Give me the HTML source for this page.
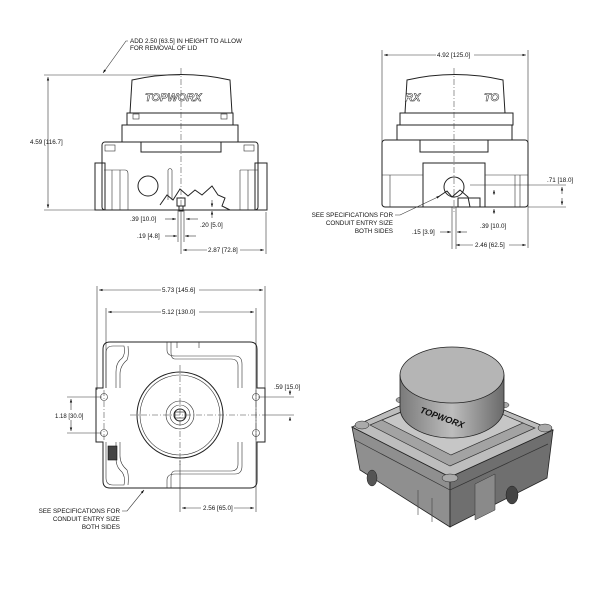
<!DOCTYPE html>
<html><head><meta charset="utf-8"><style>
html,body{margin:0;padding:0;background:#fff}
svg{display:block}
text{font-family:"Liberation Sans",sans-serif;font-size:6.3px;fill:#111}
.l{stroke:#222;stroke-width:1;fill:none}
.t{stroke:#333;stroke-width:0.6;fill:none}
.c{stroke:#444;stroke-width:0.55;fill:none;stroke-dasharray:6 2 1 2}
</style></head><body>
<svg width="600" height="600" viewBox="0 0 600 600" xmlns="http://www.w3.org/2000/svg">
<defs>
<marker id="a" viewBox="0 0 6 6" refX="6" refY="3" markerWidth="6" markerHeight="6" orient="auto-start-reverse"><path d="M0,1 L6,3 L0,5z" fill="#111"/></marker>
<linearGradient id="dome" x1="0" y1="0" x2="0" y2="1"><stop offset="0" stop-color="#cfcfcf"/><stop offset="1" stop-color="#f0f0f0"/></linearGradient>
<linearGradient id="cyl" x1="0" y1="0" x2="1" y2="0"><stop offset="0" stop-color="#7a7a7a"/><stop offset=".5" stop-color="#bdbdbd"/><stop offset="1" stop-color="#6a6a6a"/></linearGradient>
</defs>

<!-- FRONT VIEW -->
<text x="130" y="43">ADD 2.50 [63.5] IN HEIGHT TO ALLOW</text>
<text x="130" y="50">FOR REMOVAL OF LID</text>
<path class="t" d="M128,41 L126,41 L103,73" marker-end="url(#a)"/>
<line class="t" x1="44" y1="75" x2="180" y2="75"/>
<line class="t" x1="44" y1="210" x2="100" y2="210"/>
<line class="t" x1="48" y1="77" x2="48" y2="208" marker-start="url(#a)" marker-end="url(#a)"/>
<text x="30" y="144">4.59 [116.7]</text>
<path class="l" d="M130,113 L132,80 Q181,69 230,80 L232,113" fill="url(#dome)"/>
<text x="145" y="101" style="font-size:11px;font-style:italic;font-weight:bold;fill:#fff;stroke:#222;stroke-width:.5">TOPWORX</text>
<rect class="l" x="127" y="113" width="106" height="12"/>
<rect class="t" x="133" y="114" width="6" height="5"/><rect class="t" x="221" y="114" width="6" height="5"/>
<rect class="l" x="122" y="125" width="116" height="17"/>
<rect class="l" x="102" y="142" width="156" height="68" rx="3"/>
<rect class="l" x="141" y="142" width="80" height="10"/>
<rect class="l" x="95" y="163" width="10" height="47"/><rect class="l" x="255" y="163" width="12" height="47"/>
<path class="t" d="M104,170 L125,170 Q128,170 128,174 L128,210 M112,170 L112,210 M120,170 L120,210 M240,170 L258,170 M240,170 L240,210 M248,170 L248,210"/>
<rect class="t" x="105" y="145" width="10" height="6"/><rect class="t" x="244" y="145" width="10" height="6"/>
<circle class="l" cx="148" cy="186" r="10"/>
<path class="t" d="M168,170 L168,200 M172,170 L172,200 M168,170 Q170,167 172,170"/>
<path class="l" d="M160,205 L167,195 L173,200 L180,189 L188,196 L195,190 L202,195 L212,186 L218,195 L225,198 L222,206 L230,210" fill="#fff"/>
<rect class="l" x="177" y="198" width="8" height="8"/><rect class="l" x="179" y="206" width="4" height="5"/>
<line class="c" x1="181" y1="68" x2="181" y2="212"/>
<line class="t" x1="178" y1="210" x2="178" y2="242"/><line class="t" x1="184" y1="210" x2="184" y2="242"/>
<line class="t" x1="165" y1="219" x2="176" y2="219" marker-end="url(#a)"/><line class="t" x1="198" y1="219" x2="186" y2="219" marker-end="url(#a)"/>
<text x="130" y="221">.39 [10.0]</text>
<text x="200" y="227">.20 [5.0]</text>
<line class="t" x1="212" y1="200" x2="212" y2="207" marker-end="url(#a)"/><line class="t" x1="212" y1="218" x2="212" y2="211" marker-end="url(#a)"/>
<text x="137" y="238">.19 [4.8]</text>
<line class="t" x1="165" y1="236" x2="177" y2="236" marker-end="url(#a)"/><line class="t" x1="196" y1="236" x2="185" y2="236" marker-end="url(#a)"/>
<line class="t" x1="181" y1="212" x2="181" y2="254"/><line class="t" x1="266" y1="212" x2="266" y2="254"/>
<line class="t" x1="183" y1="250" x2="264" y2="250" marker-start="url(#a)" marker-end="url(#a)"/>
<rect x="207" y="246" width="33" height="8" fill="#fff"/><text x="208" y="252">2.87 [72.8]</text>

<!-- SIDE VIEW -->
<line class="t" x1="382" y1="50" x2="382" y2="205"/><line class="t" x1="528" y1="50" x2="528" y2="248"/>
<line class="t" x1="384" y1="55" x2="526" y2="55" marker-start="url(#a)" marker-end="url(#a)"/>
<rect x="436" y="51" width="38" height="8" fill="#fff"/><text x="437" y="57">4.92 [125.0]</text>
<path class="l" d="M405,113 L407,80 Q455,69 503,80 L505,113" fill="url(#dome)"/>
<text x="405" y="101" style="font-size:11px;font-style:italic;font-weight:bold;fill:#fff;stroke:#222;stroke-width:.5">RX</text>
<text x="484" y="101" style="font-size:11px;font-style:italic;font-weight:bold;fill:#fff;stroke:#222;stroke-width:.5">TO</text>
<rect class="l" x="400" y="113" width="113" height="12"/>
<rect class="l" x="397" y="125" width="115" height="15"/>
<rect class="l" x="382" y="140" width="146" height="67" rx="3"/>
<rect class="l" x="420" y="140" width="68" height="12"/>
<rect class="l" x="423" y="163" width="62" height="44"/>
<path class="t" d="M382,175 L423,175 M485,175 L528,175 M390,175 L390,207 M515,175 L515,207 M520,175 L520,207"/>
<circle class="l" cx="454" cy="187" r="10"/>
<path class="l" d="M438,197 L447,191 L452,197 L460,190 L468,197 L470,207" fill="#fff"/>
<rect class="l" x="458" y="198" width="22" height="9"/>
<line class="c" x1="454" y1="68" x2="454" y2="212"/>
<line class="t" x1="470" y1="185" x2="566" y2="185"/><line class="t" x1="528" y1="207" x2="566" y2="207"/>
<line class="t" x1="562" y1="194" x2="562" y2="187" marker-end="url(#a)"/><line class="t" x1="562" y1="198" x2="562" y2="205" marker-end="url(#a)"/>
<text x="547" y="182">.71 [18.0]</text>
<line class="t" x1="494" y1="195" x2="494" y2="190" marker-end="url(#a)"/><line class="t" x1="494" y1="214" x2="494" y2="209" marker-end="url(#a)"/>
<text x="480" y="228">.39 [10.0]</text>
<text x="393" y="217" text-anchor="end">SEE SPECIFICATIONS FOR</text>
<text x="393" y="225" text-anchor="end">CONDUIT ENTRY SIZE</text>
<text x="393" y="233" text-anchor="end">BOTH SIDES</text>
<path class="t" d="M395,215 L400,215 L440,196" marker-end="url(#a)"/>
<line class="t" x1="452" y1="207" x2="452" y2="249"/><line class="t" x1="456" y1="207" x2="456" y2="249"/>
<text x="412" y="234">.15 [3.9]</text>
<line class="t" x1="440" y1="232" x2="451" y2="232" marker-end="url(#a)"/><line class="t" x1="467" y1="232" x2="457" y2="232" marker-end="url(#a)"/>
<line class="t" x1="456" y1="245" x2="526" y2="245" marker-start="url(#a)" marker-end="url(#a)"/>
<rect x="473" y="241" width="36" height="8" fill="#fff"/><text x="475" y="247">2.46 [62.5]</text>

<!-- TOP VIEW -->
<line class="t" x1="97" y1="286" x2="97" y2="390"/><line class="t" x1="265" y1="286" x2="265" y2="390"/>
<line class="t" x1="99" y1="290" x2="263" y2="290" marker-start="url(#a)" marker-end="url(#a)"/>
<rect x="161" y="286" width="38" height="8" fill="#fff"/><text x="162" y="292">5.73 [145.6]</text>
<line class="t" x1="106" y1="308" x2="106" y2="388"/><line class="t" x1="256" y1="308" x2="256" y2="512"/>
<line class="t" x1="108" y1="312" x2="254" y2="312" marker-start="url(#a)" marker-end="url(#a)"/>
<rect x="161" y="308" width="38" height="8" fill="#fff"/><text x="162" y="314">5.12 [130.0]</text>
<path class="l" d="M110,342 L250,342 Q257,342 257,349 L257,388 L265,388 L265,442 L257,442 L257,481 Q257,488 250,488 L110,488 Q103,488 103,481 L103,442 L96,442 L96,388 L103,388 L103,349 Q103,342 110,342 Z"/>
<path class="t" d="M106,388 L106,353 Q106,346 113,346 L124,346 Q126,356 120,360 Q116,364 116,372 L116,388 M120,388 L120,374 Q120,366 127,360 Q129,356 128,346 M167,342 L167,350 Q167,356 175,356 L235,356 Q242,356 242,364 L242,388 M238,388 L238,366 Q238,359 231,359 L175,359 Q171,359 171,352 L171,342 M177,342 L177,348 M199,342 L199,348"/>
<path class="t" d="M106,442 L106,478 Q106,485 113,485 L124,485 Q126,475 120,470 Q116,466 116,458 L116,442 M120,442 L120,456 Q120,464 127,470 Q129,475 128,485 M167,488 L167,480 Q167,474 175,474 L235,474 Q242,474 242,466 L242,442 M238,442 L238,464 Q238,471 231,471 L175,471 Q171,471 171,478 L171,488"/>
<rect x="108" y="446" width="9" height="14" fill="#444" stroke="#111" stroke-width=".6"/>
<circle class="l" cx="180" cy="415" r="43"/><circle class="t" cx="180" cy="415" r="40"/>
<circle class="t" cx="180" cy="415" r="14"/><circle class="t" cx="180" cy="415" r="10"/><circle class="l" cx="180" cy="415" r="6"/><rect x="175" y="412" width="10" height="6" fill="none" stroke="#111" stroke-width=".6"/>
<circle class="t" cx="104" cy="397" r="3.5"/><circle class="t" cx="104" cy="433" r="3.5"/><circle class="t" cx="256" cy="397" r="3.5"/><circle class="t" cx="256" cy="433" r="3.5"/>
<line class="c" x1="130" y1="415" x2="262" y2="415"/><line class="c" x1="180" y1="365" x2="180" y2="465"/>
<line class="c" x1="104" y1="390" x2="104" y2="440"/><line class="c" x1="256" y1="390" x2="256" y2="440"/>
<line class="t" x1="67" y1="397" x2="102" y2="397"/><line class="t" x1="67" y1="433" x2="102" y2="433"/>
<line class="t" x1="71" y1="410" x2="71" y2="399" marker-end="url(#a)"/><line class="t" x1="71" y1="420" x2="71" y2="431" marker-end="url(#a)"/>
<text x="55" y="418" style="font-size:6px">1.18 [30.0]</text>
<line class="t" x1="258" y1="397" x2="294" y2="397"/><line class="t" x1="262" y1="415" x2="294" y2="415"/>
<line class="t" x1="290" y1="390" x2="290" y2="395" marker-end="url(#a)"/><line class="t" x1="290" y1="420" x2="290" y2="417" marker-end="url(#a)"/>
<text x="274" y="389">.59 [15.0]</text>
<line class="t" x1="180" y1="460" x2="180" y2="512"/>
<line class="t" x1="182" y1="508" x2="254" y2="508" marker-start="url(#a)" marker-end="url(#a)"/>
<rect x="201" y="504" width="33" height="8" fill="#fff"/><text x="203" y="510">2.56 [65.0]</text>
<text x="120" y="513" text-anchor="end">SEE SPECIFICATIONS FOR</text>
<text x="120" y="521" text-anchor="end">CONDUIT ENTRY SIZE</text>
<text x="120" y="529" text-anchor="end">BOTH SIDES</text>
<path class="t" d="M122,511 L127,511 L144,490" marker-end="url(#a)"/>

<!-- ISOMETRIC -->
<path d="M352,427 L450,477 L450,527 L360,470 Z" fill="#8f8f8f" stroke="#222" stroke-width=".8"/>
<path d="M450,477 L553,430 L547,478 L450,527 Z" fill="#6f6f6f" stroke="#222" stroke-width=".8"/>
<path d="M352,427 L445,386 L553,430 L450,477 Z" fill="#bdbdbd" stroke="#222" stroke-width=".8"/>
<path d="M370,425 L448,392 L535,428 L450,466 Z" fill="#a3a3a3" stroke="#333" stroke-width=".7"/>
<path d="M382,420 L450,392 L523,423 L451,455 Z" fill="#c6c6c6" stroke="#333" stroke-width=".7"/>
<path d="M355,440 L450,490 L548,444" fill="none" stroke="#333" stroke-width=".7"/>
<path d="M418,490 L418,515 M432,498 L432,522" stroke="#444" stroke-width=".6"/>
<ellipse cx="372" cy="478" rx="5" ry="8" fill="#555" stroke="#222" stroke-width=".5"/>
<ellipse cx="512" cy="495" rx="6" ry="9" fill="#444" stroke="#222" stroke-width=".5"/>
<path d="M475,484 L475,520 L495,510 L495,474 Z" fill="#8a8a8a" stroke="#333" stroke-width=".5"/>
<ellipse cx="362" cy="425" rx="7" ry="4" fill="#aaa" stroke="#222" stroke-width=".5"/>
<ellipse cx="545" cy="428" rx="7" ry="4" fill="#aaa" stroke="#222" stroke-width=".5"/>
<ellipse cx="450" cy="478" rx="8" ry="4" fill="#aaa" stroke="#222" stroke-width=".5"/>
<ellipse cx="400" cy="400" rx="4" ry="2.5" fill="#aaa" stroke="#222" stroke-width=".5"/>
<ellipse cx="505" cy="405" rx="4" ry="2.5" fill="#aaa" stroke="#222" stroke-width=".5"/>
<path d="M400,375 L400,408 A52,30 0 0 0 504,408 L504,375 Z" fill="url(#cyl)" stroke="#222" stroke-width=".8"/>
<ellipse cx="452" cy="375" rx="52" ry="28" fill="#b5b5b5" stroke="#222" stroke-width=".8"/>
<text x="418" y="420" transform="rotate(20 440 420)" style="font-size:9px;font-style:italic;font-weight:bold;fill:#111">TOPWORX</text>
</svg>
</body></html>
